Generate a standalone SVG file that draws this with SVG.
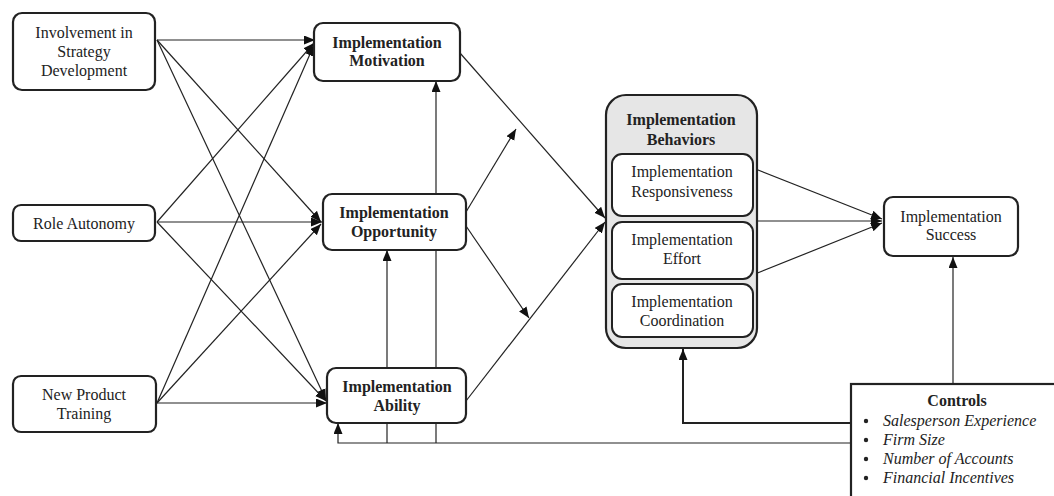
<svg xmlns="http://www.w3.org/2000/svg" width="1054" height="496" viewBox="0 0 1054 496">
<style>
.box{fill:#fff;stroke:#222;stroke-width:2.2}
.inner{fill:#fff;stroke:#222;stroke-width:2}
.t{font-family:"Liberation Serif","Times New Roman",serif;font-size:16px;fill:#222;text-anchor:middle}
.b{font-weight:bold}
.it{font-style:italic;text-anchor:start}
.c{fill:none;stroke:#222;stroke-width:1.2}
.a{marker-end:url(#ah)}
</style>
<defs>
<marker id="ah" markerUnits="userSpaceOnUse" markerWidth="12" markerHeight="10" refX="11" refY="4.5" orient="auto">
<path d="M0,0 L11,4.5 L0,9 z" fill="#111"/>
</marker>
</defs>
<rect x="0" y="0" width="1054" height="496" fill="#fff"/>
<g id="connectors">
<line class="c a" x1="157" y1="40" x2="315" y2="40"/>
<line class="c a" x1="157" y1="40" x2="321" y2="222"/>
<line class="c a" x1="157" y1="40" x2="326" y2="400"/>
<line class="c a" x1="157" y1="222" x2="314" y2="43"/>
<line class="c a" x1="157" y1="222" x2="322" y2="222"/>
<line class="c a" x1="157" y1="222" x2="326" y2="401"/>
<line class="c a" x1="157" y1="403" x2="314" y2="45"/>
<line class="c a" x1="157" y1="403" x2="321" y2="224"/>
<line class="c a" x1="157" y1="403" x2="327" y2="403"/>
<line class="c a" x1="460" y1="53" x2="605" y2="218"/>
<line class="c a" x1="466" y1="401" x2="605" y2="222"/>
<line class="c a" x1="466" y1="212" x2="516" y2="129"/>
<line class="c a" x1="466" y1="226" x2="529" y2="318"/>
<line class="c a" x1="436" y1="443" x2="436" y2="81"/>
<line class="c a" x1="387" y1="443" x2="387" y2="250"/>
<path class="c a" d="M851,443 L338,443 L338,423"/>
<path class="c a" style="stroke-width:2" d="M851,423 L683,423 L683,349"/>
<line class="c a" x1="953" y1="384" x2="953" y2="257"/>
<line class="c a" x1="753" y1="168" x2="882" y2="219"/>
<line class="c a" x1="757" y1="221" x2="882" y2="221"/>
<line class="c a" x1="755" y1="274" x2="882" y2="223"/>
</g>
<g id="involvement">
<rect class="box" x="13" y="13" width="142" height="77" rx="9"/>
<text class="t" x="84" y="38">Involvement in</text>
<text class="t" x="84" y="57">Strategy</text>
<text class="t" x="84" y="76">Development</text>
</g>
<g id="role-autonomy">
<rect class="box" x="13" y="205" width="142" height="36" rx="8"/>
<text class="t" x="84" y="229">Role Autonomy</text>
</g>
<g id="new-product-training">
<rect class="box" x="13" y="376" width="143" height="56" rx="8"/>
<text class="t" x="84" y="400">New Product</text>
<text class="t" x="84" y="419">Training</text>
</g>
<g id="motivation">
<rect class="box" x="314" y="23" width="146" height="58" rx="9"/>
<text class="t b" x="387" y="48">Implementation</text>
<text class="t b" x="387" y="66">Motivation</text>
</g>
<g id="opportunity">
<rect class="box" x="323" y="194" width="143" height="56" rx="9"/>
<text class="t b" x="394" y="218">Implementation</text>
<text class="t b" x="394" y="237">Opportunity</text>
</g>
<g id="ability">
<rect class="box" x="327" y="368" width="139" height="55" rx="9"/>
<text class="t b" x="397" y="392">Implementation</text>
<text class="t b" x="397" y="411">Ability</text>
</g>
<g id="behaviors">
<rect x="606" y="95" width="151" height="253" rx="20" fill="#e6e6e6" stroke="#222" stroke-width="2.2"/>
<text class="t b" x="681" y="125">Implementation</text>
<text class="t b" x="681" y="145">Behaviors</text>
<g id="responsiveness">
<rect class="inner" x="612" y="154" width="141" height="62" rx="10"/>
<text class="t" x="682" y="177">Implementation</text>
<text class="t" x="682" y="197">Responsiveness</text>
</g>
<g id="effort">
<rect class="inner" x="612" y="222" width="141" height="57" rx="10"/>
<text class="t" x="682" y="245">Implementation</text>
<text class="t" x="682" y="264">Effort</text>
</g>
<g id="coordination">
<rect class="inner" x="612" y="284" width="141" height="53" rx="10"/>
<text class="t" x="682" y="307">Implementation</text>
<text class="t" x="682" y="326">Coordination</text>
</g>
</g>
<g id="success">
<rect class="box" x="884" y="197" width="134" height="59" rx="9"/>
<text class="t" x="951" y="222">Implementation</text>
<text class="t" x="951" y="240">Success</text>
</g>
<g id="controls">
<rect x="851" y="384" width="215" height="130" fill="#fff" stroke="#222" stroke-width="2.2"/>
<text class="t b" x="957" y="406">Controls</text>
<circle cx="866" cy="421" r="2.2" fill="#222"/>
<circle cx="866" cy="440" r="2.2" fill="#222"/>
<circle cx="866" cy="459" r="2.2" fill="#222"/>
<circle cx="866" cy="478" r="2.2" fill="#222"/>
<text class="t it" x="883" y="426">Salesperson Experience</text>
<text class="t it" x="883" y="445">Firm Size</text>
<text class="t it" x="883" y="464">Number of Accounts</text>
<text class="t it" x="883" y="483">Financial Incentives</text>
</g>
</svg>
